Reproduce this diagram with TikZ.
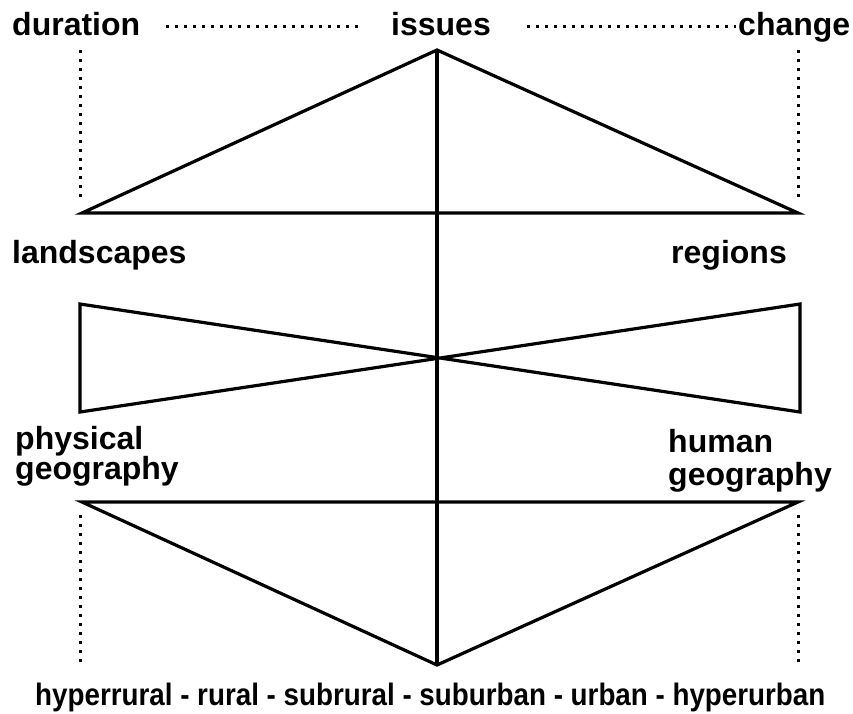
\documentclass[tikz,border=0pt]{standalone}
\usepackage{fontspec}
\setmainfont{Liberation Sans}
\begin{document}
\begin{tikzpicture}[x=1pt,y=-1pt,
  lbl/.style={inner sep=0pt,anchor=base west,font=\fontsize{32}{38}\selectfont\bfseries},
  solidline/.style={line width=3.2pt,line join=miter},
  dotline/.style={line width=3pt,dash pattern=on 3pt off 6pt}]
\useasboundingbox (0,0) rectangle (853,713);
% labels
\node[lbl] (duration) at (12,35) {duration};
\node[lbl] (issues) at (391,35) {issues};
\node[lbl] (change) at (738,35) {change};
\node[lbl] (landscapes) at (12,263) {landscapes};
\node[lbl] (regions) at (671,263) {regions};
\node[lbl] (physical) at (15,449) {physical};
\node[lbl] (physgeo) at (15,479) {geography};
\node[lbl] (human) at (668,452) {human};
\node[lbl] (humgeo) at (668,485) {geography};
\node[inner sep=0pt,anchor=base west] (scale) at (35,705) {\scalebox{0.896}[1]{\fontsize{31}{36}\selectfont\bfseries hyperrural - rural - subrural - suburban - urban - hyperurban}};
% coordinates
\coordinate (top) at (437,50);
\coordinate (tl) at (82,213);
\coordinate (tr) at (798,213);
\coordinate (bul) at (80,304);
\coordinate (bll) at (80,412);
\coordinate (bur) at (800,304);
\coordinate (blr) at (800,412);
\coordinate (ml) at (82,502);
\coordinate (mr) at (798,502);
\coordinate (bot) at (437,665);
% dotted lines
\coordinate (d1a) at (166,26); \coordinate (d1b) at (360,26);
\coordinate (d2a) at (527,26); \coordinate (d2b) at (736,26);
\draw[dotline] (d1a) -- (d1b);
\draw[dotline] (d2a) -- (d2b);
\coordinate (v1a) at (80,50); \coordinate (v1b) at (80,200);
\coordinate (v2a) at (798,50); \coordinate (v2b) at (798,200);
\coordinate (v3a) at (80,515); \coordinate (v3b) at (80,662);
\coordinate (v4a) at (798,515); \coordinate (v4b) at (798,662);
\draw[dotline] (v1a) -- (v1b);
\draw[dotline] (v2a) -- (v2b);
\draw[dotline] (v3a) -- (v3b);
\draw[dotline] (v4a) -- (v4b);
% solid lines
\draw[solidline] (tl) -- (top) -- (tr) -- cycle;
\draw[solidline] (top) -- (bot);
\draw[solidline] (bul) -- (blr) -- (bur) -- (bll) -- cycle;
\draw[solidline] (ml) -- (bot) -- (mr) -- cycle;
\end{tikzpicture}
\end{document}
